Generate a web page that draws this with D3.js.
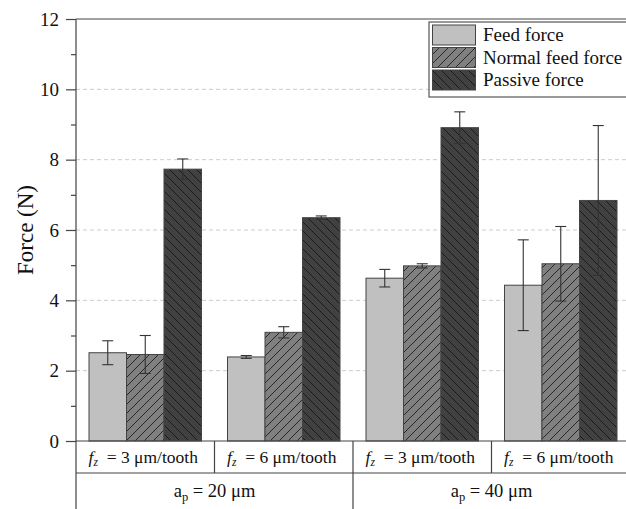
<!DOCTYPE html>
<html>
<head>
<meta charset="utf-8">
<script src="https://cdn.jsdelivr.net/npm/d3@7"></script>
<style>
  html, body { margin: 0; padding: 0; background: #fff; }
  svg { display: block; }
</style>
</head>
<body>
<svg id="chart" width="626" height="509"></svg>
<script>
// Cutting-force measurements per condition (N)
const groups = ["ap20_fz3", "ap20_fz6", "ap40_fz3", "ap40_fz6"];
const feedRates = ["3", "6", "3", "6"];
const depths = ["20", "40"];
const series = ["Feed force", "Normal feed force", "Passive force"];

const feedForce       = [2.51, 2.39, 4.63, 4.43];
const feedForceErr    = [0.34, 0.04, 0.25, 1.29];
const normalForce     = [2.46, 3.09, 4.98, 5.04];
const normalForceErr  = [0.54, 0.16, 0.06, 1.06];
const passiveForce    = [7.73, 6.35, 8.91, 6.84];
const passiveForceErr = [0.29, 0.05, 0.45, 2.13];

const yTicks = [0, 2, 4, 6, 8, 10, 12];
const yMinorTicks = [1, 3, 5, 7, 9, 11];

const values = [feedForce, normalForce, passiveForce];
const errors = [feedForceErr, normalForceErr, passiveForceErr];
const fills = ["#c0c0c0", "url(#hatchFwd)", "url(#hatchBack)"];

const FONT = "Liberation Serif";
const svg = d3.select("#chart");
const plotLeft = 76, plotRight = 630, plotTop = 19, plotBottom = 441;

const x0 = d3.scaleBand().domain(groups).range([plotLeft, plotRight]).padding(0);
const bw = x0.bandwidth();
const x1 = d3.scaleBand().domain(series).range([13, bw - 13]).padding(0);
const y = d3.scaleLinear().domain([0, 12]).range([plotBottom, plotTop]);

// hatch patterns
const defs = svg.append("defs");
function hatch(id, bg, d) {
  const p = defs.append("pattern").attr("id", id)
    .attr("patternUnits", "userSpaceOnUse").attr("width", 9).attr("height", 9);
  p.append("rect").attr("width", 9).attr("height", 9).attr("fill", bg);
  p.append("path").attr("d", d).attr("stroke", "#111").attr("stroke-width", 0.8).attr("fill", "none");
}
hatch("hatchFwd", "#808080", "M0,9 L9,0 M-3,3 L3,-3 M6,12 L12,6");
hatch("hatchBack", "#414141", "M0,0 L9,9 M-3,6 L3,12 M6,-3 L12,3");

// grid lines
svg.append("g").selectAll("line").data(yTicks.filter(t => t > 0 && t < 12)).join("line")
  .attr("x1", plotLeft).attr("x2", plotRight)
  .attr("y1", d => y(d)).attr("y2", d => y(d))
  .attr("stroke", "#cccccc").attr("stroke-width", 1).attr("stroke-dasharray", "4,3");

// bars
const barG = svg.append("g");
series.forEach((s, si) => {
  barG.append("g").selectAll("rect").data(groups).join("rect")
    .attr("x", (g) => x0(g) + x1(s))
    .attr("y", (g, i) => y(values[si][i]))
    .attr("width", x1.bandwidth())
    .attr("height", (g, i) => y(0) - y(values[si][i]))
    .attr("fill", fills[si])
    .attr("stroke", "#444").attr("stroke-width", 1);
});

// error bars
const errG = svg.append("g").attr("stroke", "#333").attr("stroke-width", 1.1);
series.forEach((s, si) => {
  groups.forEach((g, i) => {
    const cx = x0(g) + x1(s) + x1.bandwidth() / 2;
    const hi = y(values[si][i] + errors[si][i]);
    const lo = y(values[si][i] - errors[si][i]);
    errG.append("line").attr("x1", cx).attr("x2", cx).attr("y1", hi).attr("y2", lo);
    errG.append("line").attr("x1", cx - 5.5).attr("x2", cx + 5.5).attr("y1", hi).attr("y2", hi);
    errG.append("line").attr("x1", cx - 5.5).attr("x2", cx + 5.5).attr("y1", lo).attr("y2", lo);
  });
});

// frame: top border and baseline
svg.append("line").attr("x1", plotLeft).attr("x2", plotRight).attr("y1", plotTop).attr("y2", plotTop)
  .attr("stroke", "#444").attr("stroke-width", 1.2);
svg.append("line").attr("x1", plotLeft).attr("x2", plotRight).attr("y1", plotBottom).attr("y2", plotBottom)
  .attr("stroke", "#444").attr("stroke-width", 1.2);

// y axis
const yAxis = svg.append("g").attr("transform", `translate(${plotLeft},0)`)
  .call(d3.axisLeft(y).tickValues(yTicks).tickSize(10).tickPadding(7).tickFormat(d3.format("d")));
yAxis.select(".domain").remove();
yAxis.selectAll(".tick line").attr("stroke", "#444").attr("stroke-width", 1.2);
yAxis.selectAll(".tick text").attr("fill", "#111")
  .attr("font-family", FONT).attr("font-size", 19);
const yMinor = svg.append("g").attr("transform", `translate(${plotLeft},0)`)
  .call(d3.axisLeft(y).tickValues(yMinorTicks).tickSize(5).tickFormat(""));
yMinor.select(".domain").remove();
yMinor.selectAll(".tick line").attr("stroke", "#444").attr("stroke-width", 1.2);

// axis spine extended down through the category table
svg.append("line").attr("x1", plotLeft).attr("x2", plotLeft).attr("y1", plotTop).attr("y2", 509)
  .attr("stroke", "#444").attr("stroke-width", 1.2);

svg.append("text")
  .attr("transform", `translate(33,${(plotTop + plotBottom) / 2}) rotate(-90)`)
  .attr("font-family", FONT)
  .attr("text-anchor", "middle").attr("font-size", 23).attr("fill", "#111").text("Force (N)");

// category table below the axis
const rowSplit = 473;
svg.append("line").attr("x1", plotLeft).attr("x2", plotRight).attr("y1", rowSplit).attr("y2", rowSplit)
  .attr("stroke", "#444").attr("stroke-width", 1.2);
groups.slice(1).forEach(g => {
  svg.append("line").attr("x1", x0(g)).attr("x2", x0(g)).attr("y1", plotBottom).attr("y2", rowSplit)
    .attr("stroke", "#444").attr("stroke-width", 1.2);
});
svg.append("line").attr("x1", x0(groups[2])).attr("x2", x0(groups[2])).attr("y1", rowSplit).attr("y2", 509)
  .attr("stroke", "#444").attr("stroke-width", 1.2);

groups.forEach((g, i) => {
  const t = svg.append("text").attr("x", x0(g) + bw / 2 - 2).attr("y", 463)
    .attr("font-family", FONT)
    .attr("text-anchor", "middle").attr("font-size", 17.5).attr("fill", "#111");
  t.append("tspan").attr("font-style", "italic").text("f");
  t.append("tspan").attr("font-style", "italic").attr("font-size", 11.5).attr("dy", 3).text("z");
  t.append("tspan").attr("dy", -3).text(`\u2002= ${feedRates[i]} \u03bcm/tooth`);
});

depths.forEach((d, i) => {
  const cx = (x0(groups[i * 2]) + x0(groups[i * 2 + 1]) + bw) / 2;
  const t = svg.append("text").attr("x", cx).attr("y", 497)
    .attr("font-family", FONT)
    .attr("text-anchor", "middle").attr("font-size", 18.5).attr("fill", "#111");
  t.append("tspan").text("a");
  t.append("tspan").attr("font-size", 12.5).attr("dy", 4).text("p");
  t.append("tspan").attr("dy", -4).text(` = ${d} \u03bcm`);
});

// legend
const lg = svg.append("g").attr("transform", "translate(429,22)");
lg.append("rect").attr("x", 0).attr("y", 0).attr("width", 205).attr("height", 75)
  .attr("fill", "#fff").attr("stroke", "#555").attr("stroke-width", 1.2);
series.forEach((s, i) => {
  lg.append("rect").attr("x", 3.5).attr("y", 3 + i * 22.5).attr("width", 43).attr("height", 20)
    .attr("fill", fills[i]).attr("stroke", "#444").attr("stroke-width", 1);
  lg.append("text").attr("x", 54).attr("y", 19 + i * 22.5).attr("font-size", 19)
    .attr("font-family", FONT).attr("fill", "#111").text(s);
});
</script>
</body>
</html>
